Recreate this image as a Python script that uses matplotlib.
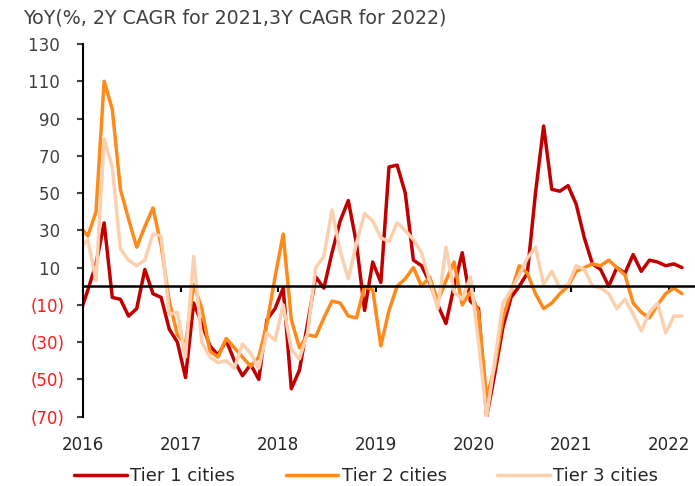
import numpy as np
import matplotlib
matplotlib.use("Agg")
import matplotlib.pyplot as plt
from matplotlib.ticker import FuncFormatter

# monthly values, Dec 2015 .. Feb 2022
tier1 = [-15, -2, 12, 34, -6, -7, -16, -12, 9, -4, -6, -23, -30,
         -49, -9, -20, -32, -37, -29, -40, -48, -42, -50, -18, -12,
         -1, -55, -45, -20, 5, -1, 18, 35, 46, 23, -13, 13,
         2, 64, 65, 50, 14, 11, 2, -10, -20, 0, 18, -8,
         -12, -70, -47, -22, -6, 0, 7, 50, 86, 52, 51, 54,
         44, 26, 12, 9, 0, 10, 7, 17, 8, 14, 13, 11,
         12, 10]
tier2 = [32, 27, 40, 110, 95, 52, 36, 21, 32, 42, 22, -8, -26,
         -31, 1, -12, -35, -38, -28, -33, -38, -43, -38, -20, 5,
         28, -18, -33, -26, -27, -17, -8, -9, -16, -17, 0, -2,
         -32, -13, 0, 4, 10, 0, 5, -8, 3, 13, -10, -3,
         -14, -60, -43, -17, -3, 11, 7, -4, -12, -9, -4, 0,
         8, 10, 12, 11, 14, 10, 6, -9, -14, -17, -10, -4,
         -1, -4]
tier3 = [20, 25, 3, 79, 64, 20, 14, 11, 14, 28, 27, -15, -14,
         -38, 16, -30, -38, -41, -40, -44, -31, -36, -44, -25, -29,
         -10, -34, -39, -25, 10, 16, 41, 19, 4, 23, 39, 35,
         26, 24, 34, 30, 25, 18, 3, -12, 21, -3, -7, 5,
         -30, -70, -40, -9, -2, 6, 15, 21, 1, 8, -1, 1,
         11, 9, 0, -1, -4, -12, -7, -15, -24, -14, -9, -25,
         -16, -16]
series_names = ["Tier 1 cities", "Tier 2 cities", "Tier 3 cities"]
colors = ["#C00000", "#FF8A1C", "#FBD0AE"]
years = ["2016", "2017", "2018", "2019", "2020", "2021", "2022"]
yticks = [-70, -50, -30, -10, 10, 30, 50, 70, 90, 110, 130]

# month index: 0 = Jan 2016 (first value is Dec 2015)
x = np.arange(len(tier1)) - 1 + 0.6

fig = plt.figure(figsize=(6.95, 4.86), dpi=100)
ax = fig.add_axes([0.1194, 0.1426, 1 - 0.1194, 0.9095 - 0.1426])

for vals, name, c in zip([tier1, tier2, tier3], series_names, colors):
    ax.plot(x, vals, color=c, lw=2.5, label=name, solid_joinstyle="round",
            solid_capstyle="round")

ax.set_xlim(0, 75.2)
ax.set_ylim(-70, 130)

ax.spines["top"].set_visible(False)
ax.spines["right"].set_visible(False)
ax.spines["left"].set_linewidth(1.5)
ax.spines["bottom"].set_position(("data", 0))
ax.spines["bottom"].set_linewidth(1.8)
ax.spines["bottom"].set_zorder(5)

# accounting style: negatives in brackets, positives padded by a space
ax.set_yticks(yticks)
ax.yaxis.set_major_formatter(FuncFormatter(
    lambda v, p: "(%d)" % abs(v) if v < 0 else "%d " % v))
ax.tick_params(axis="y", direction="out", length=4, width=1.5, pad=9,
               labelsize=12, colors="#404040")
for lab, v in zip(ax.get_yticklabels(), yticks):
    lab.set_color("#FF1A1A" if v < 0 else "#404040")

ax.set_xticks([12 * i for i in range(len(years))])
ax.set_xticklabels(years)
ax.tick_params(axis="x", direction="out", length=4, width=1.5, pad=104,
               labelsize=12, labelcolor="#262626")

fig.text(0.033, 0.963, "YoY(%, 2Y CAGR for 2021,3Y CAGR for 2022)",
         fontsize=13.7, color="#404040", va="center", ha="left")

fig.legend(loc="center", bbox_to_anchor=(0.527, 0.02), ncol=3,
           frameon=False, fontsize=13, handlelength=2.9,
           handletextpad=0.2, columnspacing=2.8, labelcolor="#262626",
           borderpad=0.1)

fig.savefig("out.png", dpi=100)
